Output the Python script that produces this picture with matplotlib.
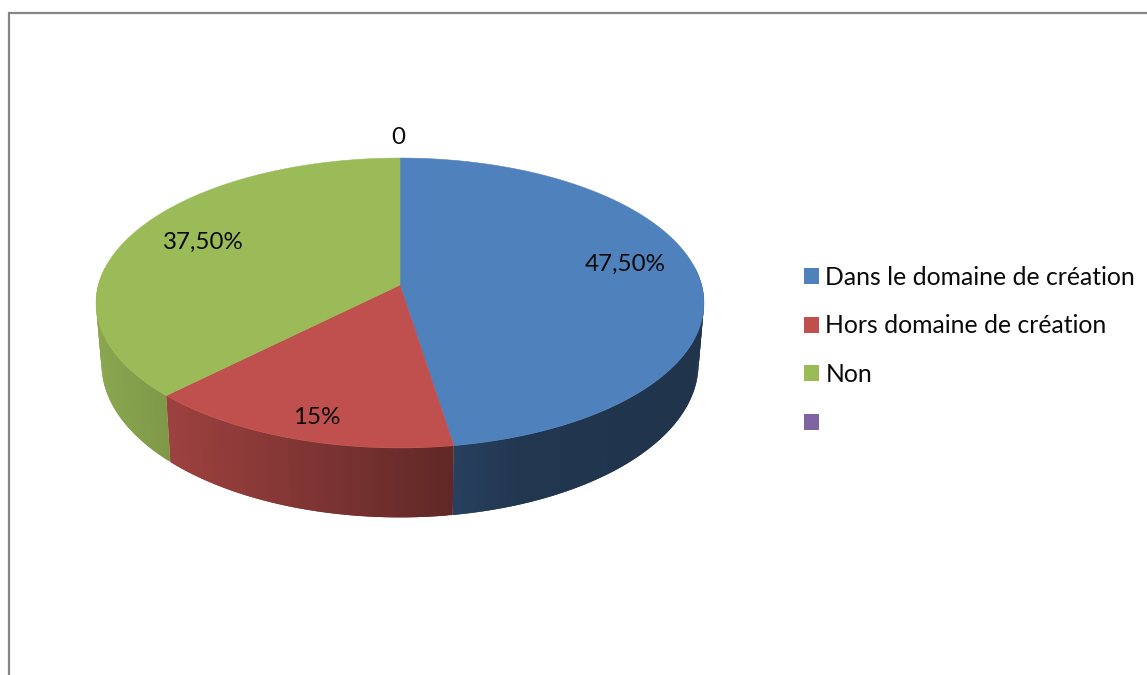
import numpy as np
import matplotlib
matplotlib.use("Agg")
import matplotlib.pyplot as plt
from matplotlib.patches import Patch, Polygon
from matplotlib.colors import to_rgb

categories = ["Dans le domaine de création", "Hors domaine de création", "Non", ""]
values = [47.5, 15, 37.5, 0]
value_labels = ["47,50%", "15%", "37,50%", "0"]
colors = ["#4f81bd", "#c0504d", "#9bbb59", "#8064a2"]

W, H = 1147, 675
plt.rcParams['font.family'] = ['Lato', 'DejaVu Sans']
FS_LABEL = 17.4
FS_LEG = 17.8
TXT = "#0a0a0a"

fig = plt.figure(figsize=(W / 100, H / 100), dpi=100, facecolor="white")
ax = fig.add_axes([0, 0, 1, 1])
ax.set_xlim(0, W)
ax.set_ylim(H, 0)
ax.axis("off")

# perspective projection of the pie disc
CX, K = 400.0, 0.124
R_TOP, A_TOP, Y_TOP = 301.6, 142.7, 285.0
R_BOT, A_BOT, Y_BOT = 296.2, 151.0, 345.0


def top_pt(t):
    u, v = np.sin(t), np.cos(t)
    d = 1 + K * v
    return CX + R_TOP * u / d, Y_TOP - A_TOP * v / d


def bot_pt(t):
    u, v = np.sin(t), np.cos(t)
    d = 1 + K * v
    return CX + R_BOT * u / d, Y_BOT - A_BOT * v / d


def shade(x):
    return np.interp(x, [96, 165, 454, 520, 704], [0.89, 0.82, 0.50, 0.42, 0.40])


edges = np.concatenate([[0], np.cumsum(values)]) / np.sum(values) * 2 * np.pi
VIS_A, VIS_B = np.radians(83), np.radians(277)

# side walls: each strip overlaps the next one so no seams show
for i, col in enumerate(colors):
    a, b = max(edges[i], VIS_A), min(edges[i + 1], VIS_B)
    if b <= a:
        continue
    ts = np.linspace(a, b, int((b - a) * 60) + 3)
    base = np.array(to_rgb(col))
    for j in range(len(ts) - 1):
        t0, t1 = ts[j], ts[min(j + 2, len(ts) - 1)]
        mid = np.linspace(t0, t1, 4)
        xt, yt = top_pt(mid)
        xb, yb = bot_pt(mid)
        pts = list(zip(xt, yt)) + list(zip(xb[::-1], yb[::-1]))
        c = base * shade(top_pt((ts[j] + ts[j + 1]) / 2)[0])
        ax.add_patch(Polygon(pts, closed=True, facecolor=c, edgecolor="none",
                             linewidth=0, zorder=2))

# top faces
for i, col in enumerate(colors):
    a, b = edges[i], edges[i + 1]
    if b <= a:
        continue
    ts = np.linspace(a, b, 240)
    xs, ys = top_pt(ts)
    pts = [(CX, Y_TOP)] + list(zip(xs, ys))
    ax.add_patch(Polygon(pts, closed=True, facecolor=col, edgecolor=col,
                         linewidth=0.4, zorder=3))

# data labels
label_xy = [(625, 264), (317, 417), (203, 242), (398, 137)]
for s, (x, y) in zip(value_labels, label_xy):
    ax.text(x, y, s, ha="center", va="center", fontsize=FS_LABEL, color=TXT, zorder=5)

# legend
handles = [Patch(facecolor=c, edgecolor="none") for c in colors]
leg = ax.legend(handles, categories, loc="upper left", bbox_to_anchor=(804 / W, 1 - 266 / H),
                borderaxespad=0, borderpad=0, frameon=False, fontsize=FS_LEG,
                handlelength=0.61, handleheight=0.61, handletextpad=0.25,
                labelspacing=1.03, labelcolor=TXT)

# chart-area border, cut off by the crop
ax.plot([9, 9, W], [H, 12.5, 12.5], color="#868686", lw=1.6, zorder=6,
        solid_joinstyle="miter", solid_capstyle="butt")

fig.savefig("out.png", dpi=100, facecolor="white")
